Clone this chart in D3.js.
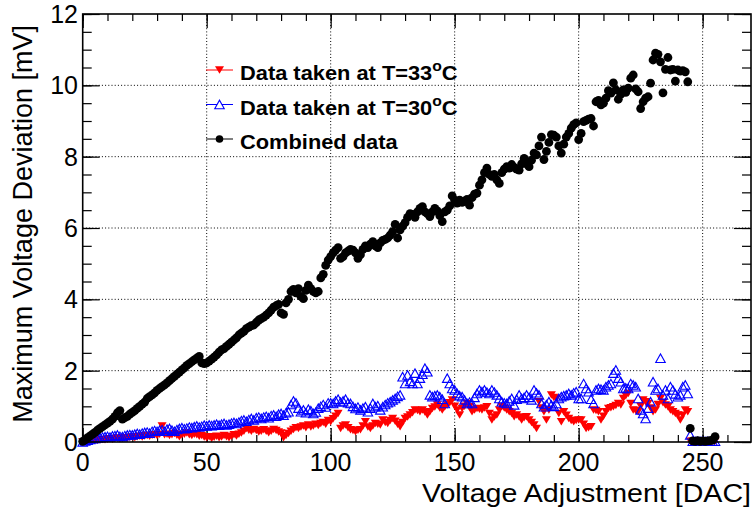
<!DOCTYPE html>
<html>
<head>
<meta charset="utf-8">
<script src="https://cdn.jsdelivr.net/npm/d3@7"></script>
<style>
  html, body { margin: 0; padding: 0; background: #fff; }
  svg { display: block; font-family: "Liberation Sans", Arial, Helvetica, sans-serif; }
</style>
</head>
<body>
<svg id="chart" width="756" height="512"></svg>
<script>
// ---------------- DATA ----------------
const dac = d3.range(0, 256); // DAC settings 0..255

const combined = [
  0.02, 0.06, 0.12, 0.17, 0.22, 0.27, 0.33, 0.38, 0.43, 0.48,
  0.53, 0.58, 0.64, 0.72, 0.82, 0.88, 0.64, 0.68, 0.72, 0.78,
  0.83, 0.88, 0.94, 1.00, 1.06, 1.12, 1.22, 1.27, 1.32, 1.38,
  1.45, 1.50, 1.55, 1.60, 1.66, 1.72, 1.78, 1.84, 1.90, 1.96,
  2.02, 2.08, 2.15, 2.20, 2.25, 2.30, 2.35, 2.40, 2.22, 2.20,
  2.22, 2.27, 2.32, 2.38, 2.44, 2.52, 2.58, 2.62, 2.68, 2.74,
  2.80, 2.86, 2.92, 3.00, 3.05, 3.10, 3.18, 3.22, 3.26, 3.28,
  3.35, 3.42, 3.46, 3.50, 3.56, 3.62, 3.70, 3.78, 3.82, 3.86,
  3.62, 3.58, 3.90, 4.00, 4.22, 4.28, 4.18, 4.30, 4.08, 4.02,
  4.25, 4.40, 4.30, 4.22, 4.18, 4.22, 4.60, 4.70, 4.95, 5.10,
  5.20, 5.30, 5.38, 5.45, 5.15, 5.20, 5.30, 5.35, 5.40, 5.38,
  5.30, 5.15, 5.25, 5.40, 5.50, 5.45, 5.55, 5.62, 5.50, 5.45,
  5.58, 5.65, 5.68, 5.72, 5.80, 5.90, 6.10, 5.72, 5.95, 6.05,
  6.15, 6.30, 6.40, 6.38, 6.30, 6.45, 6.55, 6.60, 6.45, 6.40,
  6.32, 6.45, 6.55, 6.48, 6.35, 6.18, 6.45, 6.50, 6.62, 6.90,
  6.78, 6.70, 6.78, 6.72, 6.75, 6.80, 6.64, 6.85, 6.95, 6.98,
  7.20, 7.35, 7.55, 7.68, 7.50, 7.45, 7.50, 7.35, 7.25, 7.55,
  7.65, 7.72, 7.68, 7.78, 7.70, 7.65, 7.62, 7.80, 7.95, 7.80,
  7.72, 7.90, 8.10, 8.05, 8.30, 8.55, 7.92, 8.15, 8.40, 8.62,
  8.60, 8.55, 8.30, 8.10, 8.35, 8.55, 8.65, 8.80, 8.90, 8.95,
  8.48, 8.65, 8.98, 9.02, 9.05, 9.07, 8.86, 9.54, 9.58, 9.45,
  9.50, 9.64, 9.85, 9.78, 10.07, 9.87, 9.61, 9.75, 9.87, 9.80,
  9.92, 10.20, 10.29, 9.90, 9.82, 9.35, 9.54, 9.64, 9.68, 10.06,
  10.71, 10.90, 10.87, 10.66, 9.79, 10.45, 10.78, 10.43, 10.45, 10.12,
  10.43, 10.40, 10.41, 10.38, 10.10, 0.38, 0.03, 0.02, 0.04, 0.02,
  0.03, 0.02, 0.03, 0.04, 0.05, 0.15
];

const t30 = [
  0.00, 0.03, 0.05, 0.07, 0.09, 0.10, 0.12, 0.12, 0.14, 0.15,
  0.16, 0.14, 0.17, 0.18, 0.20, 0.16, 0.15, 0.18, 0.20, 0.21,
  0.20, 0.22, 0.24, 0.22, 0.25, 0.27, 0.28, 0.25, 0.30, 0.32,
  0.30, 0.33, 0.35, 0.30, 0.36, 0.38, 0.33, 0.30, 0.35, 0.38,
  0.40, 0.37, 0.39, 0.42, 0.40, 0.43, 0.45, 0.42, 0.44, 0.47,
  0.45, 0.48, 0.46, 0.48, 0.50, 0.47, 0.50, 0.52, 0.48, 0.50,
  0.53, 0.55, 0.52, 0.56, 0.60, 0.62, 0.58, 0.63, 0.66, 0.62,
  0.68, 0.70, 0.66, 0.70, 0.72, 0.68, 0.74, 0.76, 0.72, 0.78,
  0.80, 0.75, 0.82, 0.85, 1.05, 1.15, 1.10, 0.95, 0.85, 0.90,
  0.82, 0.92, 0.88, 0.80, 0.84, 0.95, 1.00, 1.05, 0.98, 1.10,
  1.10, 1.08, 1.15, 1.20, 1.12, 1.15, 1.20, 1.10, 1.08, 1.00,
  0.94, 0.98, 0.90, 0.95, 0.99, 0.85, 0.95, 1.08, 0.99, 1.02,
  0.90, 0.99, 1.05, 1.10, 1.13, 1.18, 1.22, 1.28, 1.32, 1.83,
  1.64, 1.88, 1.70, 1.64, 1.93, 1.64, 1.79, 1.90, 2.07, 1.97,
  1.32, 1.27, 1.30, 1.32, 1.27, 1.20, 1.08, 1.79, 1.64, 1.50,
  1.46, 1.36, 1.30, 1.27, 1.18, 1.08, 1.12, 1.08, 1.25, 1.36,
  1.46, 1.41, 1.46, 1.40, 1.36, 1.46, 1.40, 1.32, 1.22, 1.13,
  1.10, 1.08, 1.15, 1.22, 1.04, 1.20, 1.32, 1.22, 1.25, 1.32,
  1.25, 1.18, 1.46, 1.38, 1.32, 1.08, 0.99, 1.05, 1.13, 1.04,
  1.00, 1.08, 1.22, 1.27, 1.30, 1.32, 1.36, 1.32, 1.38, 1.41,
  1.22, 1.22, 1.64, 1.50, 1.41, 1.20, 1.08, 1.46, 1.50, 1.48,
  1.46, 1.55, 1.60, 1.64, 1.93, 2.02, 1.79, 1.69, 1.50, 1.52,
  1.50, 1.64, 1.60, 1.55, 1.22, 0.90, 0.80, 0.66, 0.95, 1.13,
  1.69, 1.46, 1.50, 2.35, 1.32, 1.46, 1.22, 1.55, 1.46, 1.35,
  1.27, 1.32, 1.55, 1.60, 1.36, 0.20, 0.02, 0.02, 0.02, 0.02,
  0.02, 0.02, 0.02, 0.02, 0.02, 0.02
];

const t33 = [
  0.00, 0.01, 0.02, 0.03, 0.04, 0.05, 0.05, 0.06, 0.07, 0.06,
  0.08, 0.09, 0.08, 0.10, 0.11, 0.09, 0.10, 0.12, 0.11, 0.13,
  0.14, 0.12, 0.15, 0.16, 0.14, 0.17, 0.18, 0.16, 0.19, 0.20,
  0.18, 0.22, 0.45, 0.20, 0.22, 0.18, 0.20, 0.24, 0.19, 0.15,
  0.20, 0.22, 0.25, 0.20, 0.18, 0.22, 0.20, 0.16, 0.18, 0.14,
  0.12, 0.15, 0.10, 0.13, 0.16, 0.12, 0.14, 0.18, 0.15, 0.12,
  0.16, 0.20, 0.17, 0.22, 0.25, 0.30, 0.38, 0.33, 0.30, 0.35,
  0.32, 0.28, 0.30, 0.34, 0.30, 0.26, 0.30, 0.35, 0.32, 0.28,
  0.25, 0.12, 0.18, 0.24, 0.30, 0.35, 0.40, 0.38, 0.42, 0.45,
  0.40, 0.48, 0.42, 0.45, 0.50, 0.46, 0.52, 0.55, 0.50, 0.60,
  0.57, 0.65, 0.72, 0.80, 0.38, 0.45, 0.48, 0.40, 0.34, 0.32,
  0.29, 0.33, 0.34, 0.45, 0.57, 0.42, 0.38, 0.45, 0.52, 0.50,
  0.48, 0.62, 0.55, 0.52, 0.60, 0.66, 0.58, 0.50, 0.43, 0.55,
  0.66, 0.70, 0.76, 0.82, 0.90, 0.88, 0.85, 0.90, 0.84, 0.76,
  0.85, 0.94, 0.98, 1.04, 0.95, 0.90, 0.98, 1.04, 1.10, 1.18,
  1.00, 0.90, 0.76, 0.94, 1.00, 1.08, 0.99, 0.85, 0.90, 0.94,
  0.92, 0.90, 0.95, 0.99, 0.80, 0.62, 0.70, 0.76, 0.90, 0.99,
  0.95, 0.90, 0.85, 0.80, 0.71, 0.76, 0.70, 0.62, 0.68, 0.71,
  0.62, 0.55, 0.48, 0.38, 1.13, 0.95, 0.85, 0.62, 0.90, 1.32,
  1.25, 1.22, 0.80, 0.57, 0.85, 0.75, 0.66, 0.60, 0.57, 0.60,
  0.62, 0.62, 0.50, 0.38, 0.40, 0.43, 0.90, 0.88, 0.85, 0.62,
  0.72, 0.85, 0.94, 0.96, 0.99, 1.02, 1.08, 1.04, 1.22, 1.30,
  1.36, 1.08, 0.90, 0.88, 0.85, 1.00, 1.18, 1.13, 1.08, 0.95,
  0.85, 0.90, 1.05, 1.22, 1.10, 1.04, 0.99, 0.90, 0.85, 0.80,
  0.76, 0.62, 0.75, 0.90, 0.85, 0.02, 0.02, 0.02, 0.02, 0.02,
  0.02, 0.02, 0.02, 0.02, 0.02, 0.02
];

const xTicks = [0, 50, 100, 150, 200, 250];
const yTicks = [0, 2, 4, 6, 8, 10, 12];
const legendLabels = ["Data taken at T=33", "Data taken at T=30", "Combined data"];
const legendSup = ["o", "o", ""];
const legendTail = ["C", "C", ""];
const xTitle = "Voltage Adjustment [DAC]";
const yTitle = "Maximum Voltage Deviation [mV]";

// ---------------- LAYOUT ----------------
const svg = d3.select("#chart");
const L = 82.7, R = 751, T = 14, B = 442;
const x = d3.scaleLinear().domain([0, 269.5]).range([L, R]);
const y = d3.scaleLinear().domain([0, 12]).range([B, T]);

// grid
const grid = svg.append("g").attr("stroke", "#000").attr("stroke-width", 1)
  .attr("stroke-dasharray", "1,2.2").attr("fill", "none");
xTicks.filter(v => v > 0).forEach(v => {
  grid.append("line").attr("x1", x(v)).attr("x2", x(v)).attr("y1", B).attr("y2", T);
});
yTicks.filter(v => v > 0 && v < 12).forEach(v => {
  grid.append("line").attr("x1", L).attr("x2", R).attr("y1", y(v)).attr("y2", y(v));
});

// axes using d3 axis generators
const xMinor = d3.range(0, 270, 10);
const yMinor = d3.range(0, 12.01, 0.5);
function styleAxis(g) {
  g.select(".domain").remove();
  g.selectAll("line").attr("stroke", "#000").attr("stroke-width", 1.2);
}
svg.append("g").attr("transform", `translate(0,${B})`)
  .call(d3.axisTop(x).tickValues(xTicks).tickSize(14).tickFormat("")).call(styleAxis);
svg.append("g").attr("transform", `translate(0,${B})`)
  .call(d3.axisTop(x).tickValues(xMinor).tickSize(7).tickFormat("")).call(styleAxis);
svg.append("g").attr("transform", `translate(0,${T})`)
  .call(d3.axisBottom(x).tickValues(xTicks).tickSize(14).tickFormat("")).call(styleAxis);
svg.append("g").attr("transform", `translate(0,${T})`)
  .call(d3.axisBottom(x).tickValues(xMinor).tickSize(7).tickFormat("")).call(styleAxis);
svg.append("g").attr("transform", `translate(${L},0)`)
  .call(d3.axisRight(y).tickValues(yTicks).tickSize(17).tickFormat("")).call(styleAxis);
svg.append("g").attr("transform", `translate(${L},0)`)
  .call(d3.axisRight(y).tickValues(yMinor).tickSize(9).tickFormat("")).call(styleAxis);
svg.append("g").attr("transform", `translate(${R},0)`)
  .call(d3.axisLeft(y).tickValues(yTicks).tickSize(17).tickFormat("")).call(styleAxis);
svg.append("g").attr("transform", `translate(${R},0)`)
  .call(d3.axisLeft(y).tickValues(yMinor).tickSize(9).tickFormat("")).call(styleAxis);

// tick labels
svg.append("g").selectAll("text").data(xTicks).join("text")
  .attr("x", d => x(d)).attr("y", 470.5)
  .attr("text-anchor", "middle").attr("font-size", 25).attr("fill", "#000")
  .text(d => d);
svg.append("g").selectAll("text").data(yTicks).join("text")
  .attr("x", 78).attr("y", d => y(d) + 9)
  .attr("text-anchor", "end").attr("font-size", 25).attr("fill", "#000")
  .text(d => d);

// axis titles
svg.append("text").attr("transform", "translate(751,502) scale(1.1,1)").attr("text-anchor", "end")
  .attr("font-size", 26).attr("fill", "#000").text(xTitle);
svg.append("text").attr("transform", "translate(32,25) rotate(-90)")
  .attr("text-anchor", "end").attr("font-size", 27).attr("fill", "#000").text(yTitle);

// markers
const downTri = (w, h) => `M${-w/2},${-h/2}L${w/2},${-h/2}L0,${h/2}Z`;
const upTri = (w, h) => `M${-w/2},${h/2}L${w/2},${h/2}L0,${-h/2}Z`;

const plot = svg.append("g");

plot.append("g").selectAll("path").data(dac).join("path")
  .attr("transform", i => `translate(${x(dac[i])},${y(t33[i])})`)
  .attr("d", downTri(9, 7.5)).attr("fill", "#ff0000");

plot.append("g").selectAll("path").data(dac).join("path")
  .attr("transform", i => `translate(${x(dac[i])},${y(t30[i])})`)
  .attr("d", upTri(9.5, 8.5)).attr("fill", "none").attr("stroke", "#0000ff").attr("stroke-width", 1.1);

plot.append("g").selectAll("circle").data(dac).join("circle")
  .attr("cx", i => x(dac[i])).attr("cy", i => y(combined[i])).attr("r", 4.4)
  .attr("fill", "#000");

// frame
svg.append("rect").attr("x", L).attr("y", T).attr("width", R - L).attr("height", B - T)
  .attr("fill", "none").attr("stroke", "#000").attr("stroke-width", 1.6);

// legend
const legY = [70, 104.5, 139];
const legColors = ["#ff0000", "#0000ff", "#000"];
const leg = svg.append("g");
legendLabels.forEach((lab, k) => {
  const g = leg.append("g");
  g.append("line").attr("x1", 206).attr("x2", 233).attr("y1", legY[k]).attr("y2", legY[k])
    .attr("stroke", legColors[k]).attr("stroke-width", 1);
  if (k === 0) g.append("path").attr("transform", `translate(219.5,${legY[k]})`).attr("d", downTri(9, 7.5)).attr("fill", "#ff0000");
  if (k === 1) g.append("path").attr("transform", `translate(219.5,${legY[k]})`).attr("d", upTri(9.5, 8.5)).attr("fill", "#fff").attr("stroke", "#0000ff").attr("stroke-width", 1.1);
  if (k === 2) g.append("circle").attr("cx", 219.5).attr("cy", legY[k]).attr("r", 3.8).attr("fill", "#000");
  const t = g.append("text").attr("transform", `translate(240,${legY[k] + 10}) scale(1.12,1)`)
    .attr("font-size", 19.5).attr("font-weight", "bold").attr("fill", "#000");
  t.append("tspan").text(lab);
  if (legendSup[k]) {
    t.append("tspan").attr("dy", -9).attr("font-size", 14).text(legendSup[k]);
    t.append("tspan").attr("dy", 9).text(legendTail[k]);
  }
});
</script>
</body>
</html>
